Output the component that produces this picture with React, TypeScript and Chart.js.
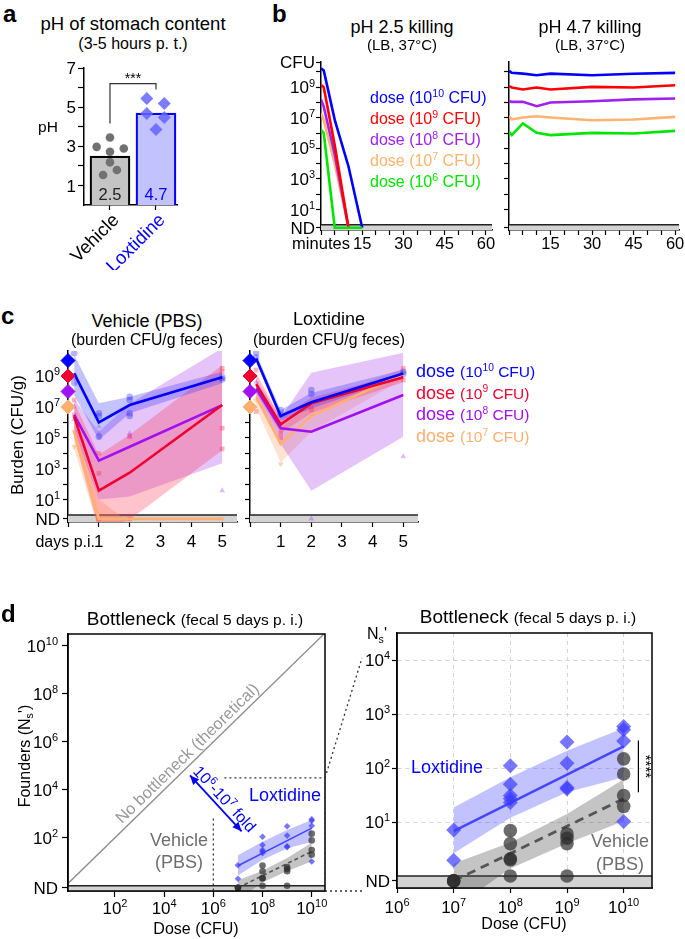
import React, { useEffect, useRef } from 'react';
import { Chart, registerables } from 'chart.js';

Chart.register(...registerables);

const FONT = '"Liberation Sans", Arial, Helvetica, sans-serif';
type V = number | 'ND' | null;
const ND = 'ND' as const;

/* ---------------- a : stomach pH ---------------- */
const phCategories = ['Vehicle', 'Loxtidine'];
const phCategoryColors = ['#000000', '#0000ff'];
const phMeans = [2.5, 4.7];
const phVehicleValues = [3.45, 2.97, 2.89, 2.72, 2.18, 1.53, 1.79];
const phVehicleOffsets = [0, -0.29, 0.3, 0, 0, -0.15, 0.15];
const phLoxValues = [5.44, 5.19, 4.68, 4.47, 3.86];
const phLoxOffsets = [-0.2, 0.18, -0.2, 0.18, 0];
const phTickValues = [1, 2, 3, 4, 5, 6, 7];
const phTickLabels = ['1', '', '3', '', '5', '', '7'];
const phBracket = [4.17, 6.2, 5.9]; // left foot, top, right foot (pH units)

/* ---------------- b : in-vitro killing (log10 CFU) ---------------- */
const doseLabels = ['10^{10}', '10^{9}', '10^{8}', '10^{7}', '10^{6}'];
const doseColors = ['#0000ff', '#ff0000', '#a020f0', '#ffb36e', '#00e600'];
const acidMinutes = [0, 1, 5, 10, 15];
const acidDose10: V[] = [10.24, 10.09, 6.86, 3.81, ND];
const acidDose9: V[] = [9.15, 9.0, 5.2, ND, null];
const acidDose8: V[] = [8.2, 7.73, 4.6, ND, null];
const acidDose7: V[] = [7.3, 6.86, 4.0, ND, null];
const acidDose6: V[] = [6.2, 6.0, ND, ND, ND];
const mildMinutes = [0, 1, 5, 10, 15, 30, 45, 60];
const mildDose10: V[] = [10.07, 9.94, 9.89, 9.78, 9.89, 9.78, 9.88, 9.94];
const mildDose9: V[] = [9.07, 8.98, 8.85, 8.98, 8.85, 9.02, 8.98, 9.13];
const mildDose8: V[] = [8.1, 8.04, 8.04, 7.76, 8.0, 8.08, 8.2, 8.26];
const mildDose7: V[] = [7.1, 6.89, 7.02, 7.1, 7.02, 6.84, 6.89, 7.06];
const mildDose6: V[] = [6.08, 5.86, 6.63, 6.01, 5.86, 6.01, 5.97, 6.14];
const killMinuteTicks = [0, 5, 10, 15, 20, 25, 30, 35, 40, 45, 50, 55, 60];
const killMinuteLabelsLeft = ['minutes', '', '', '15', '', '', '30', '', '', '45', '', '', '60'];
const killMinuteLabelsRight = ['', '', '', '15', '', '', '30', '', '', '45', '', '', '60'];
const killCfuTicks: V[] = [10.65, 10, 9, 8, 7, 6, 5, 4, 3, 2, 1, ND];
const killCfuLabels = ['CFU', '', '10^{9}', '', '10^{7}', '', '10^{5}', '', '10^{3}', '', '10^{1}', 'ND'];
const killND = -0.2;
const killRange = { yMin: -0.35, yMax: 10.65, xMaxLeft: 62.2, xMaxRight: 61.4 };

/* ---------------- c : fecal burden (log10 CFU/g) ---------------- */
const burdenDays = [0.2, 1, 2, 5];
const burdenDoseExp = [10, 9, 8, 7];
const burdenLegend = ['10^{10}', '10^{9}', '10^{8}', '10^{7}'];
const burdenColors = ['#0000ff', '#ee0030', '#a010f0', '#ffb070'];
const burdenBandColors = ['rgba(40,40,255,0.28)', 'rgba(255,40,70,0.28)', 'rgba(170,60,235,0.3)', 'rgba(255,165,105,0.32)'];
const burdenDotColors = ['rgba(40,40,255,0.35)', 'rgba(255,40,70,0.35)', 'rgba(170,60,235,0.35)', 'rgba(255,165,105,0.5)'];
const burdenDotShapes = ['circle', 'rect', 'triangle', 'triangle'];
const burdenDotRotation = [0, 0, 0, 180];
const vehicleMedian: V[][] = [[9.17, 6.0, 7.12, 8.92], [6.37, 1.58, 2.74, 7.12], [6.48, 3.52, 4.42, 7.12], [5.4, ND, ND, ND]];
const vehicleUpper: V[][] = [[10.36, 7.23, 7.66, 9.28], [7.3, 3.9, 5.2, 9.7], [7.5, 5.4, 7.2, 10.8], [6.1, 1.0, -0.5, -0.5]];
const vehicleLower: V[][] = [[7.77, 4.86, 6.59, 8.53], [5.0, -1, -0.3, 4.2], [5.5, 1.0, 1.2, 3.35], [4.3, -1, -1, -1]];
const vehicleDots: [number, V][][] = [
  [[0.2, 10.47], [0.2, 8.96], [0.2, 8.57], [1, 6.59], [1, 6.41], [1, 5.07], [2, 7.66], [2, 7.45], [2, 6.59], [2, 6.41], [5, 8.91], [5, 8.78]],
  [[0.2, 7.45], [0.2, 6.48], [1, 4.0], [1, 2.7], [1, ND], [2, 5.07], [2, ND], [5, 9.5], [5, 9.28], [5, 5.62], [5, 4.28]],
  [[0.2, 7.0], [0.2, 6.2], [1, 5.72], [1, 5.3], [2, 5.29], [2, 5.13], [5, 8.8], [5, 1.58]],
  [[0.2, 5.4], [0.2, 4.42], [1, ND], [2, ND], [5, ND]],
];
const loxMedian: V[][] = [[10.14, 6.41, 7.3, 9.17], [8.48, 5.87, 7.23, 8.92], [8.2, 5.61, 5.39, 7.77], [7.66, 4.6, 6.41, 9.13]];
const loxUpper: V[][] = [[10.45, 6.8, 7.9, 9.4], [9.2, 6.3, 7.6, 9.2], [8.8, 6.3, 9.21, 10.5], [8.5, 5.6, 7.2, 9.5]];
const loxLower: V[][] = [[9.9, 6.1, 6.9, 8.9], [7.9, 5.3, 6.6, 8.6], [7.5, 4.6, 1.58, 5.07], [6.9, 3.4, 5.4, 8.8]];
const loxDots: [number, V][][] = [
  [[0.2, 10.5], [0.2, 10.2], [1, 6.79], [1, 6.5], [2, 8.1], [2, 7.84], [5, 9.28], [5, 9.13]],
  [[0.2, 9.39], [0.2, 6.7], [1, 5.3], [1, 5.0], [2, 6.8], [2, 7.0], [5, 9.5], [5, 8.74]],
  [[0.2, 8.6], [1, 5.8], [2, ND], [5, 3.78]],
  [[0.2, 7.4], [1, 3.3], [2, 6.4], [5, 9.3]],
];
const burdenTicks: V[] = [10, 9, 8, 7, 6, 5, 4, 3, 2, 1, ND];
const burdenTickLabels = ['', '10^{9}', '', '10^{7}', '', '10^{5}', '', '10^{3}', '', '10^{1}', 'ND'];
const burdenDayTicks = [0, 1, 2, 3, 4, 5];
const burdenDayLabels = ['', '1', '2', '3', '4', '5'];
const burdenND = -0.25;
const burdenRange = { yMin: -0.45, yMax: 10.62, xMax: 5.48 };

/* ---------------- d : bottleneck (log10) ---------------- */
const loxDoseExp = [7, 7, 8, 8, 8, 8, 8, 9, 9, 9, 9, 10, 10, 10, 10];
const loxFounders: V[] = [0.85, 0.29, 2.04, 1.7, 1.49, 1.43, 1.36, 2.48, 2.09, 1.64, 1.61, 2.77, 2.71, 2.5, 1.01];
const vehDoseExp = [7, 7, 7, 8, 8, 8, 8, 8, 9, 9, 9, 9, 10, 10, 10, 10];
const vehFounders: V[] = [ND, ND, ND, 0.84, 0.6, 0.3, 0.32, 0.0, 0.78, 0.7, 0.6, 0.0, 2.17, 1.89, 1.49, 1.29];
const fitDoseExp = [7, 10];
const loxFit = [0.83, 2.4];
const vehFit = [-0.09, 1.43];
const bandDoseExp = [7, 8, 9, 10];
const loxBandHi = [1.27, 1.83, 2.32, 2.74];
const loxBandLo = [0.42, 1.08, 1.55, 1.83];
const vehBandHi = [0.23, 0.62, 1.15, 1.79];
const vehBandLo = [-0.6, 0.14, 0.6, 1.02];
const bnND = -0.09;
const zoomRange = { xMin: 6, xMax: 10.5, yMin: -0.2, yMax: 4.5 };
const fullRange = { xMin: 0.09, xMax: 10.54, yMin: -0.19, yMax: 10.5 };
const fullXTicks = [2, 4, 6, 8, 10];
const fullXLabels = ['10^{2}', '10^{4}', '10^{6}', '10^{8}', '10^{10}'];
const fullYTicks: V[] = [10, 8, 6, 4, 2, ND];
const fullYLabels = ['10^{10}', '10^{8}', '10^{6}', '10^{4}', '10^{2}', 'ND'];
const zoomXTicks = [6, 7, 8, 9, 10];
const zoomXLabels = ['10^{6}', '10^{7}', '10^{8}', '10^{9}', '10^{10}'];
const zoomYTicks: V[] = [4, 3, 2, 1, ND];
const zoomYLabels = ['10^{4}', '10^{3}', '10^{2}', '10^{1}', 'ND'];
const foldArrow = [[5.05, 4.6], [7.15, 2.27]];
const foldTextAt = [6.47, 3.63];
const diagTextAt = [4.92, 5.54];
const sigBar = [10.26, 2.51, 1.55];

/* ---------------- geometry ---------------- */
type Box = { l: number; t: number; w: number; h: number };
type Area = { left: number; top: number; right: number; bottom: number };
const BOX_A: Box = { l: 0, t: 55, w: 190, h: 215 };
const AREA_A: Area = { left: 84, top: 68, right: 177, bottom: 205 };
const BOX_B1: Box = { l: 268, t: 50, w: 227, h: 205 };
const AREA_B1: Area = { left: 321, top: 62, right: 492, bottom: 230 };
const BOX_B2: Box = { l: 495, t: 50, w: 190, h: 205 };
const AREA_B2: Area = { left: 509, top: 62, right: 679, bottom: 230 };
const BOX_C1: Box = { l: 0, t: 340, w: 245, h: 215 };
const AREA_C1: Area = { left: 68, top: 351, right: 238, bottom: 522 };
const BOX_C2: Box = { l: 236, t: 340, w: 190, h: 215 };
const AREA_C2: Area = { left: 250, top: 351, right: 422, bottom: 522 };
const BOX_D1: Box = { l: 0, t: 590, w: 366, h: 349 };
const AREA_D1: Area = { left: 68, top: 634, right: 325, bottom: 891 };
const BOX_D2: Box = { l: 340, t: 590, w: 345, h: 349 };
const AREA_D2: Area = { left: 397, top: 633, right: 652, bottom: 888 };

function geom(b: Box, a: Area) {
  return {
    padding: { left: 0, top: a.top - b.t, right: b.l + b.w - a.right, bottom: 0 },
    yW: a.left - b.l,
    xH: b.t + b.h - a.bottom,
  };
}

const conv = (e: V, nd: number): number | null => (e === null ? null : e === 'ND' ? Math.pow(10, nd) : Math.pow(10, e));
const p10 = (e: number) => Math.pow(10, e);

/* ---------------- rich text ---------------- */
function parseRich(s: string) {
  const out: { t: string; m: number }[] = [];
  const re = /([\^_])\{([^}]*)\}/g;
  let last = 0;
  let m: RegExpExecArray | null;
  while ((m = re.exec(s))) {
    if (m.index > last) out.push({ t: s.slice(last, m.index), m: 0 });
    out.push({ t: m[2], m: m[1] === '^' ? 1 : 2 });
    last = re.lastIndex;
  }
  if (last < s.length) out.push({ t: s.slice(last), m: 0 });
  return out;
}

function drawRich(ctx: CanvasRenderingContext2D, s: string, x: number, y: number, align: string, size: number, color: string, rot = 0, mid = false) {
  const parts = parseRich(s);
  ctx.save();
  ctx.fillStyle = color;
  ctx.textAlign = 'left';
  ctx.textBaseline = 'alphabetic';
  const fonts = parts.map((p) => `${p.m ? Math.round(size * 0.66) : size}px ${FONT}`);
  const ws = parts.map((p, i) => {
    ctx.font = fonts[i];
    return ctx.measureText(p.t).width;
  });
  const total = ws.reduce((a, b) => a + b, 0);
  ctx.translate(x, y);
  if (rot) ctx.rotate(rot);
  let cx = align === 'left' ? 0 : align === 'right' ? -total : -total / 2;
  const base = mid ? size * 0.36 : 0;
  parts.forEach((p, i) => {
    ctx.font = fonts[i];
    ctx.fillText(p.t, cx, base + (p.m === 1 ? -size * 0.4 : p.m === 2 ? size * 0.2 : 0));
    cx += ws[i];
  });
  ctx.restore();
}

function Rich({ s }: { s: string }) {
  return (
    <>
      {parseRich(s).map((p, i) =>
        p.m === 0 ? (
          <span key={i}>{p.t}</span>
        ) : (
          <span key={i} style={{ fontSize: '0.66em', position: 'relative', top: p.m === 1 ? '-0.6em' : '0.3em' }}>
            {p.t}
          </span>
        )
      )}
    </>
  );
}

function T({ x, y, size = 16, color = '#000', bold = false, anchor = 'middle', rot = 0, children }: any) {
  const base: any = {
    position: 'absolute',
    fontSize: size,
    color,
    fontWeight: bold ? 700 : 400,
    fontFamily: FONT,
    lineHeight: 1,
    whiteSpace: 'nowrap',
  };
  if (rot) {
    return <div style={{ ...base, left: x, top: y, transform: `translate(-50%,-50%) rotate(${rot}deg)` }}>{children}</div>;
  }
  const tx = anchor === 'middle' ? '-50%' : anchor === 'end' ? '-100%' : '0';
  return <div style={{ ...base, left: x, top: y - 0.85 * size, transform: `translateX(${tx})` }}>{children}</div>;
}

/* ---------------- chart helpers ---------------- */
function axis(kind: 'x' | 'y', type: string, min: number, max: number, ticks: number[], size: number, extra: any = {}) {
  return {
    type,
    min,
    max,
    offset: false,
    afterBuildTicks: (s: any) => {
      s.ticks = ticks.map((v) => ({ value: v }));
    },
    afterFit: (s: any) => {
      if (kind === 'y') s.width = size;
      else s.height = size;
    },
    ticks: { display: false },
    grid: {
      display: true,
      offset: false,
      drawOnChartArea: !!extra.gridOnArea,
      drawTicks: true,
      tickLength: extra.tickLength ?? 5,
      tickColor: '#000',
      tickWidth: 1.2,
      color: extra.gridColor ?? 'rgba(0,0,0,0)',
      lineWidth: 1,
    },
    border: { display: true, color: '#000', width: 1.5, dash: extra.dash ?? [] },
  };
}

function baseOptions(g: any, scales: any) {
  return {
    responsive: false,
    animation: false,
    events: [],
    devicePixelRatio: 1,
    layout: { padding: g.padding },
    plugins: { legend: { display: false }, tooltip: { enabled: false } },
    scales,
  };
}

type LabelSpec = { scale: string; values: number[]; labels: string[]; size: number; colors?: string[]; pad?: number; rot?: number; dx?: number; dy?: number };
function tickLabels(id: string, specs: LabelSpec[]) {
  return {
    id,
    afterDraw(chart: any) {
      const ctx = chart.ctx;
      for (const sp of specs) {
        const s = chart.scales[sp.scale];
        const tl = s.options.grid.tickLength;
        const pad = sp.pad ?? 3;
        sp.values.forEach((v, i) => {
          const txt = sp.labels[i];
          if (!txt) return;
          const p = s.getPixelForValue(v);
          const col = sp.colors ? sp.colors[i] : '#000';
          if (s.axis === 'y') drawRich(ctx, txt, s.right - tl - pad, p, 'right', sp.size, col, 0, true);
          else if (sp.rot) drawRich(ctx, txt, p + (sp.dx ?? 0), s.top + tl + pad + (sp.dy ?? 0), 'right', sp.size, col, (sp.rot * Math.PI) / 180, false);
          else drawRich(ctx, txt, p, s.top + tl + pad + sp.size * 0.72, 'center', sp.size, col, 0, false);
        });
      }
    },
  };
}

function ndBand(id: string, topValue: number) {
  return {
    id,
    beforeDatasetsDraw(chart: any) {
      const { ctx, chartArea: a, scales } = chart;
      const yp = scales.y.getPixelForValue(topValue);
      ctx.save();
      ctx.fillStyle = '#d3d3d3';
      ctx.fillRect(a.left, yp, a.right - a.left, a.bottom - yp);
      ctx.strokeStyle = '#222';
      ctx.lineWidth = 1.5;
      ctx.beginPath();
      ctx.moveTo(a.left, yp);
      ctx.lineTo(a.right, yp);
      ctx.stroke();
      ctx.restore();
    },
  };
}

function ChartBox({ box, build }: { box: Box; build: () => any }) {
  const ref = useRef<HTMLCanvasElement | null>(null);
  useEffect(() => {
    const c = new Chart(ref.current as HTMLCanvasElement, build());
    return () => c.destroy();
  }, []);
  return (
    <canvas
      ref={ref}
      width={box.w}
      height={box.h}
      style={{ position: 'absolute', left: box.l, top: box.t, width: box.w, height: box.h }}
    />
  );
}

/* ---------------- a ---------------- */
const phAnnot = {
  id: 'phAnnot',
  afterDatasetsDraw(chart: any) {
    const { ctx, scales } = chart;
    const { x, y } = scales;
    ctx.save();
    ctx.font = `16.5px ${FONT}`;
    ctx.textAlign = 'center';
    ctx.textBaseline = 'alphabetic';
    phMeans.forEach((m, i) => {
      ctx.fillStyle = i ? '#0000ff' : '#222';
      ctx.fillText(m.toFixed(1), x.getPixelForValue(i), y.getPixelForValue(0) - 5);
    });
    const x0 = x.getPixelForValue(0);
    const x1 = x.getPixelForValue(1);
    const yt = y.getPixelForValue(phBracket[1]);
    ctx.strokeStyle = '#333';
    ctx.lineWidth = 1.2;
    ctx.beginPath();
    ctx.moveTo(x0, y.getPixelForValue(phBracket[0]));
    ctx.lineTo(x0, yt);
    ctx.lineTo(x1, yt);
    ctx.lineTo(x1, y.getPixelForValue(phBracket[2]));
    ctx.stroke();
    ctx.fillStyle = '#000';
    ctx.font = `14px ${FONT}`;
    ctx.fillText('***', (x0 + x1) / 2, yt - 1);
    ctx.restore();
  },
};

function buildPH() {
  const g = geom(BOX_A, AREA_A);
  const xTicks = [0, 1];
  return {
    type: 'line',
    data: {
      datasets: [
        { data: phVehicleValues.map((v, i) => ({ x: phVehicleOffsets[i], y: v })), showLine: false, pointRadius: 4.3, pointBackgroundColor: '#717171', pointBorderWidth: 0, order: 0 },
        { data: phLoxValues.map((v, i) => ({ x: 1 + phLoxOffsets[i], y: v })), showLine: false, pointStyle: 'rectRot', pointRadius: 6.5, pointBackgroundColor: 'rgba(100,100,255,0.85)', pointBorderWidth: 0, order: 0 },
        { type: 'bar', data: phMeans.map((m, i) => ({ x: i, y: m })), backgroundColor: ['#c4c4c4', '#c2c2ff'], borderColor: ['#000000', '#0000ff'], borderWidth: 2.2, barThickness: 40, order: 1 },
      ],
    },
    options: baseOptions(g, {
      x: axis('x', 'linear', -0.565, 1.457, xTicks, g.xH, { tickLength: 5 }),
      y: axis('y', 'linear', 0, 7, phTickValues, g.yW, { tickLength: 6 }),
    }),
    plugins: [
      tickLabels('phTicks', [
        { scale: 'y', values: phTickValues, labels: phTickLabels, size: 17, pad: 2 },
        { scale: 'x', values: xTicks, labels: phCategories, size: 18.5, colors: phCategoryColors, rot: -45, dx: 10, dy: 8 },
      ]),
      phAnnot,
    ],
  };
}

/* ---------------- b ---------------- */
function buildKill(box: Box, area: Area, minutes: number[], series: V[][], left: boolean) {
  const g = geom(box, area);
  const yTicksV = left ? killCfuTicks : killCfuTicks.slice(1);
  const yVals = yTicksV.map((e) => conv(e, killND) as number);
  const specs: LabelSpec[] = [
    { scale: 'x', values: killMinuteTicks, labels: left ? killMinuteLabelsLeft : killMinuteLabelsRight, size: 16.5, pad: 2 },
  ];
  if (left) specs.push({ scale: 'y', values: yVals, labels: killCfuLabels, size: 17, pad: 1 });
  return {
    type: 'line',
    data: {
      datasets: series.map((vals, k) => ({
        data: minutes.map((t, i) => ({ x: t, y: conv(vals[i], killND) })),
        borderColor: doseColors[k],
        borderWidth: 2.6,
        pointRadius: 0,
        tension: 0,
        fill: false,
        order: k === 4 ? 0 : k + 1,
      })),
    },
    options: baseOptions(g, {
      x: axis('x', 'linear', 0, left ? killRange.xMaxLeft : killRange.xMaxRight, killMinuteTicks, g.xH, { tickLength: 5 }),
      y: axis('y', 'logarithmic', p10(killRange.yMin), p10(killRange.yMax), yVals, g.yW, { tickLength: 5 }),
    }),
    plugins: [ndBand(left ? 'bandB1' : 'bandB2', 1), tickLabels(left ? 'tlB1' : 'tlB2', specs)],
  };
}

/* ---------------- c ---------------- */
function buildBurden(box: Box, area: Area, median: V[][], upper: V[][], lower: V[][], dots: [number, V][][], left: boolean) {
  const g = geom(box, area);
  const yVals = burdenTicks.map((e) => conv(e, burdenND) as number);
  const ds: any[] = [];
  for (let k = 0; k < 4; k++) {
    ds.push({ data: burdenDays.map((d, i) => ({ x: d, y: conv(upper[k][i], burdenND) })), borderWidth: 0, pointRadius: 0, fill: false, order: 5 });
    ds.push({ data: burdenDays.map((d, i) => ({ x: d, y: conv(lower[k][i], burdenND) })), borderWidth: 0, pointRadius: 0, fill: '-1', backgroundColor: burdenBandColors[k], order: 5 });
  }
  for (let k = 0; k < 4; k++) {
    ds.push({
      data: dots[k].map(([d, v]) => ({ x: d, y: conv(v, burdenND) })),
      showLine: false,
      pointStyle: burdenDotShapes[k],
      pointRotation: burdenDotRotation[k],
      pointRadius: 3.3,
      pointBackgroundColor: burdenDotColors[k],
      pointBorderWidth: 0,
      order: 3,
    });
  }
  for (let k = 0; k < 4; k++) {
    ds.push({ data: burdenDays.map((d, i) => ({ x: d, y: conv(median[k][i], burdenND) })), borderColor: burdenColors[k], borderWidth: 2.6, pointRadius: 0, tension: 0, fill: false, order: 2 });
  }
  ds.push({
    data: burdenDoseExp.map((e) => ({ x: 0, y: p10(e) })),
    showLine: false,
    pointStyle: 'rectRot',
    pointRadius: 7,
    pointBackgroundColor: burdenColors,
    pointBorderColor: burdenColors,
    pointBorderWidth: 1,
    clip: false,
    order: 0,
  });
  const specs: LabelSpec[] = [{ scale: 'x', values: burdenDayTicks, labels: burdenDayLabels, size: 17, pad: 8 }];
  if (left) specs.push({ scale: 'y', values: yVals, labels: burdenTickLabels, size: 17, pad: 3 });
  return {
    type: 'line',
    data: { datasets: ds },
    options: baseOptions(g, {
      x: axis('x', 'linear', 0, burdenRange.xMax, burdenDayTicks, g.xH, { tickLength: 5 }),
      y: axis('y', 'logarithmic', p10(burdenRange.yMin), p10(burdenRange.yMax), yVals, g.yW, { tickLength: 5 }),
    }),
    plugins: [ndBand(left ? 'bandC1' : 'bandC2', 1), tickLabels(left ? 'tlC1' : 'tlC2', specs)],
  };
}

/* ---------------- d ---------------- */
function dotted(ctx: any, pts: number[][]) {
  ctx.beginPath();
  ctx.moveTo(pts[0][0], pts[0][1]);
  for (let i = 1; i < pts.length; i++) ctx.lineTo(pts[i][0], pts[i][1]);
  ctx.stroke();
}

function frame(ctx: any, a: any) {
  ctx.save();
  ctx.strokeStyle = '#000';
  ctx.lineWidth = 1.5;
  ctx.strokeRect(a.left, a.top, a.right - a.left, a.bottom - a.top);
  ctx.restore();
}

const overviewAnnot = {
  id: 'overviewAnnot',
  afterDraw(chart: any) {
    const { ctx, chartArea: a, scales, width } = chart;
    const { x, y } = scales;
    frame(ctx, a);
    ctx.save();
    ctx.strokeStyle = '#333';
    ctx.lineWidth = 1.3;
    ctx.setLineDash([2, 3]);
    const zl = x.getPixelForValue(p10(zoomRange.xMin));
    const zr = x.getPixelForValue(p10(zoomRange.xMax)) + 1;
    const zt = y.getPixelForValue(p10(zoomRange.yMax));
    dotted(ctx, [[zl, y.getPixelForValue(p10(2.8))], [zl, a.bottom]]);
    dotted(ctx, [[x.getPixelForValue(p10(6.45)), zt], [zr, zt], [zr, a.bottom]]);
    dotted(ctx, [[zr, a.bottom], [width - 4, a.bottom]]);
    dotted(ctx, [[zr, zt], [width - 4, a.top + 24]]);
    ctx.setLineDash([]);
    const ang = Math.atan2(y.getPixelForValue(1e10) - y.getPixelForValue(1), x.getPixelForValue(1e10) - x.getPixelForValue(1));
    drawRich(ctx, 'No bottleneck (theoretical)', x.getPixelForValue(p10(diagTextAt[0])), y.getPixelForValue(p10(diagTextAt[1])), 'center', 16.5, '#9a9a9a', ang, true);
    const ax0 = x.getPixelForValue(p10(foldArrow[0][0]));
    const ay0 = y.getPixelForValue(p10(foldArrow[0][1]));
    const ax1 = x.getPixelForValue(p10(foldArrow[1][0]));
    const ay1 = y.getPixelForValue(p10(foldArrow[1][1]));
    const aang = Math.atan2(ay1 - ay0, ax1 - ax0);
    ctx.strokeStyle = '#0000ff';
    ctx.fillStyle = '#0000ff';
    ctx.lineWidth = 1.8;
    ctx.beginPath();
    ctx.moveTo(ax0, ay0);
    ctx.lineTo(ax1, ay1);
    ctx.stroke();
    const head = (hx: number, hy: number, dir: number) => {
      ctx.beginPath();
      ctx.moveTo(hx, hy);
      ctx.lineTo(hx - 10 * Math.cos(dir - 0.42), hy - 10 * Math.sin(dir - 0.42));
      ctx.lineTo(hx - 10 * Math.cos(dir + 0.42), hy - 10 * Math.sin(dir + 0.42));
      ctx.closePath();
      ctx.fill();
    };
    head(ax1, ay1, aang);
    head(ax0, ay0, aang + Math.PI);
    drawRich(ctx, '10^{6}-10^{7} fold', x.getPixelForValue(p10(foldTextAt[0])), y.getPixelForValue(p10(foldTextAt[1])), 'center', 16, '#0000ff', aang, true);
    ctx.restore();
  },
};

const zoomAnnot = {
  id: 'zoomAnnot',
  afterDraw(chart: any) {
    const { ctx, chartArea: a, scales } = chart;
    const { x, y } = scales;
    frame(ctx, a);
    ctx.save();
    const sx = x.getPixelForValue(p10(sigBar[0]));
    ctx.strokeStyle = '#000';
    ctx.lineWidth = 1.2;
    ctx.beginPath();
    ctx.moveTo(sx, y.getPixelForValue(p10(sigBar[1])));
    ctx.lineTo(sx, y.getPixelForValue(p10(sigBar[2])));
    ctx.stroke();
    ctx.translate(sx + 5, (y.getPixelForValue(p10(sigBar[1])) + y.getPixelForValue(p10(sigBar[2]))) / 2);
    ctx.rotate(Math.PI / 2);
    ctx.font = `15px ${FONT}`;
    ctx.fillStyle = '#000';
    ctx.textAlign = 'center';
    ctx.textBaseline = 'alphabetic';
    ctx.fillText('****', 0, 2);
    ctx.restore();
  },
};

function buildBottleneck(full: boolean) {
  const box = full ? BOX_D1 : BOX_D2;
  const area = full ? AREA_D1 : AREA_D2;
  const r = full ? fullRange : zoomRange;
  const g = geom(box, area);
  const xT = full ? fullXTicks : zoomXTicks;
  const xVals = xT.map((e) => p10(e));
  const yT = full ? fullYTicks : zoomYTicks;
  const yVals = yT.map((e) => conv(e, bnND) as number);
  const big = !full;
  const ds: any[] = [];
  if (full) {
    ds.push({ data: [{ x: 0.1, y: 0.1 }, { x: 1e11, y: 1e11 }], borderColor: '#8c8c8c', borderWidth: 1.3, pointRadius: 0, order: 6 });
  }
  ds.push({ data: bandDoseExp.map((e, i) => ({ x: p10(e), y: p10(loxBandHi[i]) })), borderWidth: 0, pointRadius: 0, fill: false, order: 5 });
  ds.push({ data: bandDoseExp.map((e, i) => ({ x: p10(e), y: p10(loxBandLo[i]) })), borderWidth: 0, pointRadius: 0, fill: '-1', backgroundColor: 'rgba(80,80,255,0.35)', order: 5 });
  ds.push({ data: bandDoseExp.map((e, i) => ({ x: p10(e), y: p10(vehBandHi[i]) })), borderWidth: 0, pointRadius: 0, fill: false, order: 5 });
  ds.push({ data: bandDoseExp.map((e, i) => ({ x: p10(e), y: p10(vehBandLo[i]) })), borderWidth: 0, pointRadius: 0, fill: '-1', backgroundColor: 'rgba(70,70,70,0.32)', order: 5 });
  ds.push({ data: fitDoseExp.map((e, i) => ({ x: p10(e), y: p10(loxFit[i]) })), borderColor: '#4646ff', borderWidth: big ? 2.5 : 1.6, pointRadius: 0, order: 2 });
  ds.push({ data: fitDoseExp.map((e, i) => ({ x: p10(e), y: p10(vehFit[i]) })), borderColor: '#555555', borderWidth: big ? 2.8 : 1.6, borderDash: big ? [9, 6] : [4, 3], pointRadius: 0, order: 2 });
  ds.push({ data: loxDoseExp.map((e, i) => ({ x: p10(e), y: conv(loxFounders[i], bnND) })), showLine: false, pointStyle: 'rectRot', pointRadius: big ? 7.5 : 3.3, pointBackgroundColor: 'rgba(60,60,255,0.7)', pointBorderWidth: 0, order: 1 });
  ds.push({ data: vehDoseExp.map((e, i) => ({ x: p10(e), y: conv(vehFounders[i], bnND) })), showLine: false, pointStyle: 'circle', pointRadius: big ? 6.8 : 3.3, pointBackgroundColor: 'rgba(45,45,45,0.7)', pointBorderWidth: 0, order: 1 });
  const gridOpts = big ? { gridOnArea: true, dash: [4, 4], tickLength: 5 } : { tickLength: 6 };
  const gridColor = (ctx: any) => {
    const v = ctx.tick ? ctx.tick.value : 0;
    if (!big) return 'rgba(0,0,0,0)';
    return v <= 1 || Math.abs(Math.log10(v) - 6) < 1e-6 ? 'rgba(0,0,0,0)' : '#d4d4d4';
  };
  return {
    type: 'line',
    data: { datasets: ds },
    options: baseOptions(g, {
      x: axis('x', 'logarithmic', p10(r.xMin), p10(r.xMax), xVals, g.xH, { ...gridOpts, gridColor }),
      y: axis('y', 'logarithmic', p10(r.yMin), p10(r.yMax), yVals, g.yW, { ...gridOpts, gridColor }),
    }),
    plugins: [
      ndBand(full ? 'bandD1' : 'bandD2', 1),
      tickLabels(full ? 'tlD1' : 'tlD2', [
        { scale: 'x', values: xVals, labels: full ? fullXLabels : zoomXLabels, size: 17, pad: full ? 5 : 8 },
        { scale: 'y', values: yVals, labels: full ? fullYLabels : zoomYLabels, size: 17, pad: full ? 4 : 2 },
      ]),
      full ? overviewAnnot : zoomAnnot,
    ],
  };
}

/* ---------------- App ---------------- */
export default function App() {
  return (
    <div style={{ position: 'absolute', left: 0, top: 0, width: 685, height: 939, background: '#fff', overflow: 'hidden', fontFamily: FONT }}>
      <ChartBox box={BOX_A} build={buildPH} />
      <ChartBox box={BOX_B1} build={() => buildKill(BOX_B1, AREA_B1, acidMinutes, [acidDose10, acidDose9, acidDose8, acidDose7, acidDose6], true)} />
      <ChartBox box={BOX_B2} build={() => buildKill(BOX_B2, AREA_B2, mildMinutes, [mildDose10, mildDose9, mildDose8, mildDose7, mildDose6], false)} />
      <ChartBox box={BOX_C1} build={() => buildBurden(BOX_C1, AREA_C1, vehicleMedian, vehicleUpper, vehicleLower, vehicleDots, true)} />
      <ChartBox box={BOX_C2} build={() => buildBurden(BOX_C2, AREA_C2, loxMedian, loxUpper, loxLower, loxDots, false)} />
      <ChartBox box={BOX_D1} build={() => buildBottleneck(true)} />
      <ChartBox box={BOX_D2} build={() => buildBottleneck(false)} />

      {/* panel a */}
      <T x={3} y={22} size={24} bold anchor="start">a</T>
      <T x={133} y={31} size={18.5}>pH of stomach content</T>
      <T x={133} y={50} size={16}>(3-5 hours p. t.)</T>
      <T x={48} y={132} size={15.5}>pH</T>

      {/* panel b */}
      <T x={272} y={22} size={24} bold anchor="start">b</T>
      <T x={402} y={33} size={18}>pH 2.5 killing</T>
      <T x={402} y={50} size={15}>(LB, 37°C)</T>
      <T x={590} y={33} size={18}>pH 4.7 killing</T>
      <T x={590} y={50} size={15}>(LB, 37°C)</T>
      {doseLabels.map((d, k) => (
        <T key={d} x={370} y={104 + 21 * k} size={16} color={doseColors[k]} anchor="start">
          dose (<Rich s={d} /> CFU)
        </T>
      ))}

      {/* panel c */}
      <T x={1} y={324} size={24} bold anchor="start">c</T>
      <T x={147} y={327} size={18}>Vehicle (PBS)</T>
      <T x={147} y={345} size={15.8}>(burden CFU/g feces)</T>
      <T x={329} y={325} size={18}>Loxtidine</T>
      <T x={329} y={345} size={15.8}>(burden CFU/g feces)</T>
      <T x={17} y={435} size={17} rot={-90}>Burden (CFU/g)</T>
      <T x={95} y={548} size={16} anchor="end">days p.i.</T>
      {burdenLegend.map((d, k) => (
        <T key={d} x={416} y={377 + 21.8 * k} size={18} color={burdenColors[k]} anchor="start">
          dose <span style={{ fontSize: 15.5 }}>(<Rich s={d} /> CFU)</span>
        </T>
      ))}

      {/* panel d */}
      <T x={1} y={622} size={24} bold anchor="start">d</T>
      <T x={195} y={625} size={19}>
        Bottleneck <span style={{ fontSize: 15.5 }}>(fecal 5 days p. i.)</span>
      </T>
      <T x={528} y={623} size={19}>
        Bottleneck <span style={{ fontSize: 15.5 }}>(fecal 5 days p. i.)</span>
      </T>
      <T x={25} y={756} size={16} rot={-90}>
        Founders (N<Rich s="_{s}" />')
      </T>
      <T x={196} y={935} size={16}>Dose (CFU)</T>
      <T x={524} y={930} size={16}>Dose (CFU)</T>
      <T x={377} y={640} size={16}>
        N<Rich s="_{s}" />'
      </T>
      <T x={285} y={801} size={18} color="#0000ff">Loxtidine</T>
      <T x={179} y={846} size={18} color="#6e6e6e">Vehicle</T>
      <T x={179} y={868} size={18} color="#6e6e6e">(PBS)</T>
      <T x={447} y={773} size={18} color="#0000ff">Loxtidine</T>
      <T x={620} y={847} size={18} color="#6e6e6e">Vehicle</T>
      <T x={620} y={870} size={18} color="#6e6e6e">(PBS)</T>
    </div>
  );
}
